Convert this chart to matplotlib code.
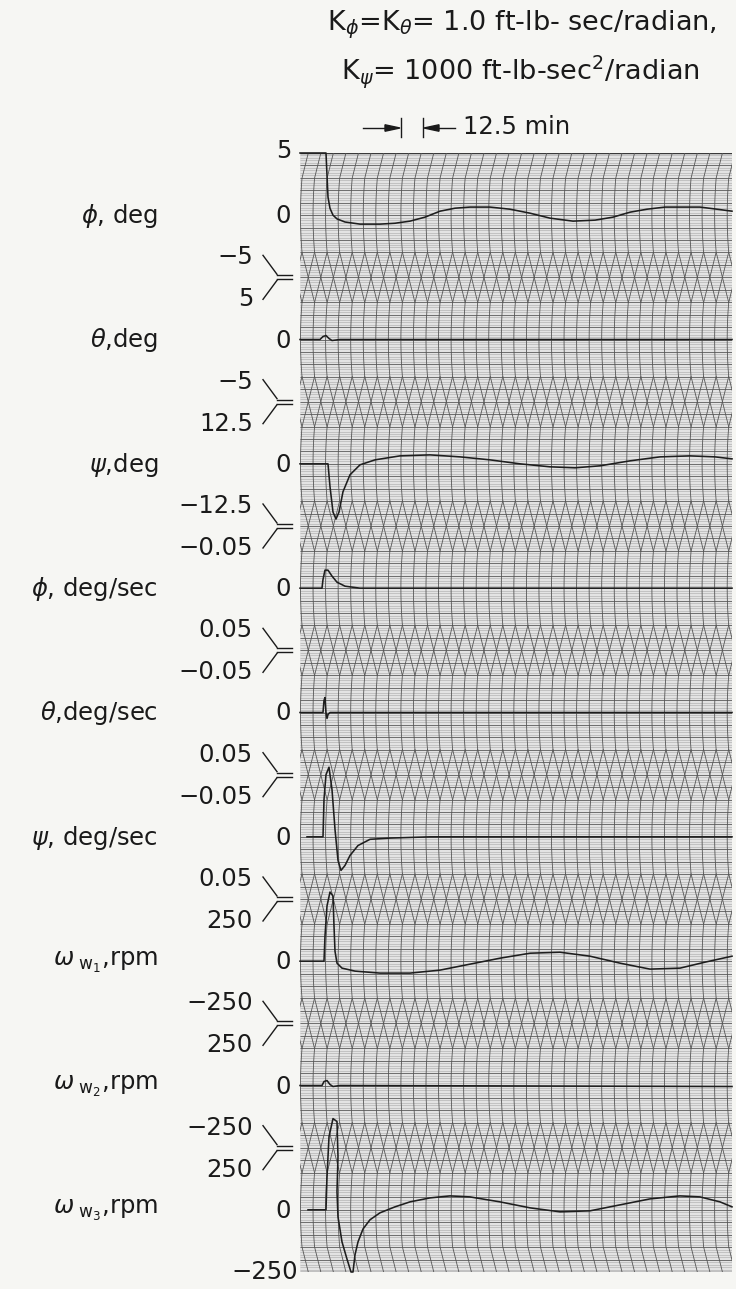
import numpy as np
import matplotlib
matplotlib.use("Agg")
import matplotlib.pyplot as plt
from matplotlib.lines import Line2D
from matplotlib.patches import Rectangle, FancyArrow

plt.rcParams["font.family"] = ["DejaVu Sans"]
plt.rcParams["mathtext.fontset"] = "dejavusans"

# channel set-up (top to bottom)
labels = [r"$\phi$, deg", r"$\theta$,deg", r"$\psi$,deg",
          r"$\phi$, deg/sec", r"$\theta$,deg/sec", r"$\psi$, deg/sec",
          r"$\omega_{\ \mathrm{w}_1}$,rpm", r"$\omega_{\ \mathrm{w}_2}$,rpm", r"$\omega_{\ \mathrm{w}_3}$,rpm"]
full_scale = [5, 5, 12.5, 0.05, 0.05, 0.05, 250, 250, 250]
inverted = [False, False, False, True, True, True, False, False, False]
top_labels = ["5", "5", "12.5", "\u22120.05", "\u22120.05", "\u22120.05", "250", "250", "250"]
bottom_labels = ["\u22125", "\u22125", "\u221212.5", "0.05", "0.05", "0.05", "\u2212250", "\u2212250", "\u2212250"]

t_max = 259.2  # minutes across the strip

phi_t = [0, 15.6, 16.2, 16.8, 18, 19.8, 22.2, 27, 36, 48, 57, 66, 75, 84, 93, 102, 114, 126, 138, 150,
         163.8, 177, 187.8, 198, 208.2, 219, 228, 240, 250.2, 259.2]
phi_v = [5.0, 5.0, 3.2, 1.45, 0.55, 0.0, -0.3, -0.55, -0.72, -0.72, -0.65, -0.48, -0.16, 0.32, 0.56, 0.65,
         0.65, 0.48, 0.16, -0.24, -0.48, -0.4, -0.16, 0.24, 0.48, 0.65, 0.65, 0.65, 0.48, 0.32]

theta_t = [0, 12, 13.8, 15.6, 17.4, 19.2, 24, 259.2]
theta_v = [0, 0, 0.24, 0.32, 0.08, -0.08, 0, 0]

psi_t = [0, 16.8, 18, 19.8, 21.6, 23.4, 25.8, 30, 36, 45, 60, 78, 96, 114, 132, 150, 165, 180, 198,
         216, 234, 249, 259.2]
psi_v = [0, 0, -4.6, -9.7, -11.1, -9.7, -5.6, -2.2, -0.2, 0.8, 1.6, 1.8, 1.4, 0.8, 0, -0.6, -0.8, -0.4,
         0.6, 1.4, 1.6, 1.4, 1.0]

phidot_t = [0, 13.2, 13.8, 15, 16.8, 19.2, 22.2, 27, 36, 259.2]
phidot_v = [0, 0, -0.007, -0.0145, -0.0145, -0.0097, -0.0048, -0.0016, 0, 0]

thetadot_t = [0, 13.8, 14.4, 15, 15.6, 16.2, 16.8, 18, 259.2]
thetadot_v = [0, 0, -0.0097, -0.012, 0, 0.0048, 0.0016, 0, 0]

psidot_t = [4.2, 13.8, 14.4, 15.6, 17.4, 19.2, 21, 22.8, 24.6, 27, 30, 34.8, 42, 54, 78, 259.2]
psidot_v = [0, 0, -0.03, -0.05, -0.056, -0.038, -0.006, 0.019, 0.027, 0.023, 0.015, 0.007, 0.002,
            0.001, 0, 0]

ww1_t = [0, 14.4, 15, 16.2, 18, 19.8, 20.4, 21, 22.2, 25.2, 33, 48, 66, 84, 102, 120, 138, 156, 174,
         192, 210, 228, 243, 259.2]
ww1_v = [0, 0, 101, 222, 278, 262, 141, 40, -8, -28, -40, -48, -48, -36, -12, 12, 32, 36, 20, -8, -32,
         -28, -4, 20]

ww2_t = [0, 13.2, 14.4, 16.2, 18, 19.8, 24, 259.2]
ww2_v = [0, 0, 16, 20, 4, -4, 0, -4]

ww3_t = [4.8, 15.6, 16.2, 17.4, 19.8, 22.2, 22.8, 22.2, 22.8, 25.2, 28.2, 30.6, 31.8, 33, 34.8, 37.8,
         42, 48, 57, 66, 78, 90, 102, 120, 138, 156, 174, 192, 210, 228, 240, 252, 259.2]
ww3_v = [0, 0, 133, 294, 367, 355, 214, 73, -28, -129, -198, -250, -250, -181, -129, -77, -40, -12,
         12, 32, 48, 56, 52, 32, 8, -8, -4, 20, 44, 56, 52, 32, 12]

traces = [(phi_t, phi_v), (theta_t, theta_v), (psi_t, psi_v),
          (phidot_t, phidot_v), (thetadot_t, thetadot_v), (psidot_t, psidot_v),
          (ww1_t, ww1_v), (ww2_t, ww2_v), (ww3_t, ww3_v)]

# page layout in pixels
W, H = 736, 1289
left, right, top, bottom = 300, 732, 153, 1272
n = len(labels)
ch = (bottom - top) / n


def fx(x):
    return x / W


def fy(y):
    return 1 - y / H


fig = plt.figure(figsize=(W / 100, H / 100), dpi=100)
fig.patch.set_facecolor("#f6f6f3")

# chart paper
pw, ph = right - left, bottom - top
bg = fig.add_axes([fx(left), fy(bottom), pw / W, ph / H])
bg.set_xlim(0, pw)
bg.set_ylim(ph, 0)
bg.axis("off")
bg.add_patch(Rectangle((0, 0), pw, ph, fc="#e3e3e3", ec="none"))
fine = np.arange(0, ph, ch / 50)
bg.hlines(fine, 0, pw, color="#b4b4b4", lw=0.5)
major = np.arange(0, ph + 0.1, ch / 10)
bg.hlines(major, 0, pw, color="#686868", lw=0.65)
bg.hlines([0, ph], 0, pw, color="#3a3a3a", lw=1.0)

# curvilinear time lines; straight diagonals in the overlap zones give the diamonds
dx = 12.55
inner = 37
reach = ch - inner
s = np.concatenate([np.linspace(-reach, -inner, 2), np.linspace(-inner, inner, 30),
                    np.linspace(inner, reach, 2)])
off = np.where(np.abs(s) <= inner, 1.5 * (s / inner) ** 2,
               1.5 + dx * (np.abs(s) - inner) / (reach - inner))
for k in range(n):
    yc = ch * (k + 0.5)
    for i in range(-2, 36):
        bg.plot(0.5 + dx * i + off, yc + s, color="#555555", lw=0.6)

# traces, one axis per channel
for k, (tt, vv) in enumerate(traces):
    y0 = top + (k + 1) * ch
    ax = fig.add_axes([fx(left), fy(y0), pw / W, ch / H])
    ax.set_xlim(0, t_max)
    r = full_scale[k]
    ax.set_ylim((r, -r) if inverted[k] else (-r, r))
    ax.axis("off")
    ax.patch.set_alpha(0)
    ax.plot(tt, vv, color="#1e1e1e", lw=1.15, clip_on=False, solid_joinstyle="round")

# scale labels and brackets
fs = 17.5
ink = "#1a1a1a"
fig.text(fx(291), fy(151), top_labels[0], ha="right", va="center", fontsize=fs, color=ink)
for k in range(n):
    zc = top + ch * (k + 0.5)
    fig.text(fx(291), fy(zc + 1), "0", ha="right", va="center", fontsize=fs, color=ink)
    fig.text(fx(158), fy(zc + 1), labels[k], ha="right", va="center", fontsize=fs, color=ink)
    if k < n - 1:
        b = top + ch * (k + 1)
        fig.text(fx(253), fy(b - 20), bottom_labels[k], ha="right", va="center", fontsize=fs, color=ink)
        fig.text(fx(253), fy(b + 22), top_labels[k + 1], ha="right", va="center", fontsize=fs, color=ink)
        for (xa, xb), (ya, yb) in [((263, 277), (b - 22, b - 3)), ((263, 277), (b + 22, b + 3)),
                                   ((277, 292), (b - 2, b - 2)), ((277, 292), (b + 2, b + 2))]:
            fig.add_artist(Line2D([fx(xa), fx(xb)], [fy(ya), fy(yb)], color=ink, lw=1.0))
fig.text(fx(298), fy(1272), bottom_labels[-1], ha="right", va="center", fontsize=fs, color=ink)

# heading
fig.text(fx(522), fy(25), r"K$_{\phi}$=K$_{\theta}$= 1.0 ft-lb- sec/radian,", ha="center", va="center",
         fontsize=19.5, color=ink)
fig.text(fx(520), fy(72), r"K$_{\psi}$= 1000 ft-lb-sec$^2$/radian", ha="center", va="center",
         fontsize=19.5, color=ink)

# time scale marker
for xb in (401, 423):
    fig.add_artist(Line2D([fx(xb), fx(xb)], [fy(118), fy(137)], color=ink, lw=1.0))
fig.add_artist(Line2D([fx(363), fx(392)], [fy(128), fy(128)], color=ink, lw=1.0))
fig.add_artist(Line2D([fx(432), fx(455)], [fy(128), fy(128)], color=ink, lw=1.0))
for x0, d in ((385, 15), (439, -15)):
    fig.add_artist(FancyArrow(fx(x0), fy(128), d / W, 0, width=0.0008, head_width=0.005,
                              head_length=15 / W, length_includes_head=True, color=ink,
                              transform=fig.transFigure))
fig.text(fx(463), fy(127), "12.5 min", ha="left", va="center", fontsize=17.5, color=ink)

fig.savefig("out.png", dpi=100, facecolor=fig.get_facecolor())
